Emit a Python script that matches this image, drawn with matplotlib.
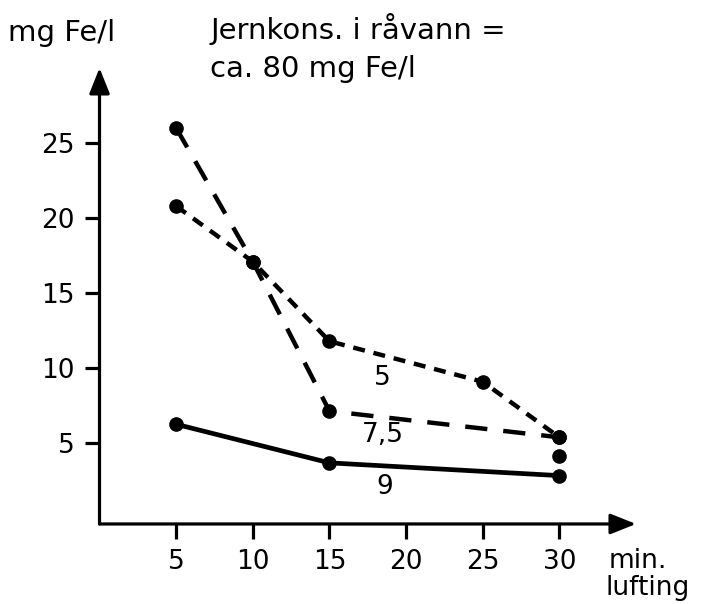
#!/usr/bin/env python3

import matplotlib
matplotlib.use("Agg")
import matplotlib.pyplot as plt

plt.rcParams.update({
    "font.family": ["DejaVu Sans"],
    "font.size": 19,
})

# aeration time (min) and iron concentration (mg Fe/l)
x_ph5 = [5, 10, 15, 25, 30]
y_ph5 = [20.8, 17.1, 11.8, 9.1, 5.4]

x_ph75 = [5, 10, 15, 30]
y_ph75 = [26.0, 17.1, 7.15, 5.4]

x_ph9 = [5, 15, 30]
y_ph9 = [6.27, 3.7, 2.85]

x_extra = [30]
y_extra = [4.15]

series_labels = ["5", "7,5", "9"]
label_pos = [(18.45, 8.9), (18.5, 5.1), (18.6, 1.6)]

xticks = [5, 10, 15, 20, 25, 30]
yticks = [5, 10, 15, 20, 25]

fig = plt.figure(figsize=(7.18, 6.04), dpi=100)
ax = fig.add_axes([0.1386, 0.1325, 0.7472, 0.7550])
ax.set_xlim(0, 35)
ax.set_ylim(-0.37, 30)

lw = 3.2
ax.plot(x_ph5, y_ph5, color="black", lw=lw, dashes=(2.7, 2.0))
ax.plot(x_ph75, y_ph75, color="black", lw=lw, dashes=(5.0, 3.6))
ax.plot(x_ph9, y_ph9, color="black", lw=3.4)
for xs, ys in [(x_ph5, y_ph5), (x_ph75, y_ph75), (x_ph9, y_ph9), (x_extra, y_extra)]:
    ax.plot(xs, ys, "o", color="black", ms=9.5, ls="none", clip_on=False)

for lab, (lx, ly) in zip(series_labels, label_pos):
    ax.text(lx, ly, lab, ha="center", va="baseline", fontsize=19)

# axes drawn as arrows
for s in ["top", "right", "left", "bottom"]:
    ax.spines[s].set_visible(False)
arrow = dict(arrowstyle="-|>,head_length=0.65,head_width=0.26", color="black",
             lw=2.3, mutation_scale=24, shrinkA=0, shrinkB=0)
ax.annotate("", xy=(1, 0), xytext=(0, 0), xycoords="axes fraction",
            textcoords="axes fraction", arrowprops=arrow, annotation_clip=False)
ax.annotate("", xy=(0, 1), xytext=(0, 0), xycoords="axes fraction",
            textcoords="axes fraction", arrowprops=arrow, annotation_clip=False)

ax.set_xticks(xticks)
ax.set_xticklabels([str(v) for v in xticks])
ax.set_yticks(yticks)
ax.set_yticklabels([str(v) for v in yticks])
ax.tick_params(axis="both", direction="out", length=11, width=2.3, labelsize=19)
ax.tick_params(axis="x", pad=7)
ax.tick_params(axis="y", pad=7)

fig.text(8 / 718, 1 - 41 / 604, "mg Fe/l", fontsize=21, va="baseline", ha="left")
fig.text(210 / 718, 1 - 39 / 604, "Jernkons. i råvann =", fontsize=21, va="baseline", ha="left")
fig.text(210 / 718, 1 - 77 / 604, "ca. 80 mg Fe/l", fontsize=21, va="baseline", ha="left")
fig.text(609 / 718, 1 - 568 / 604, "min.", fontsize=19, va="baseline", ha="left")
fig.text(606 / 718, 1 - 595 / 604, "lufting", fontsize=19, va="baseline", ha="left")

fig.savefig("out.png", dpi=100)
